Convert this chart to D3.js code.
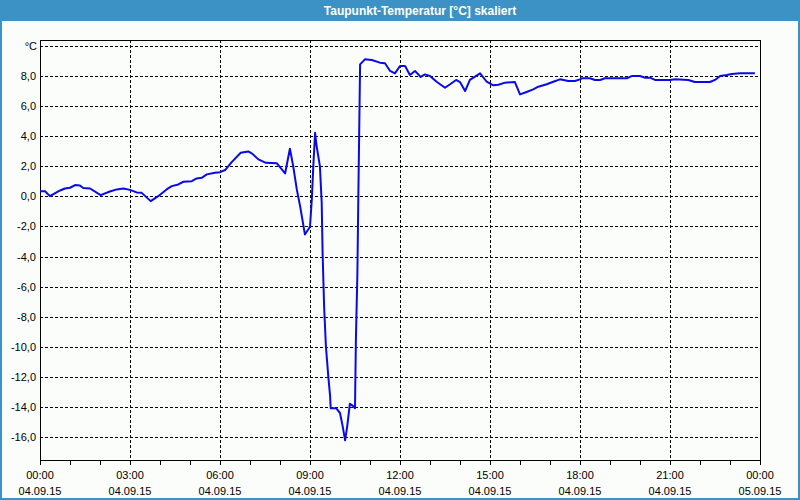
<!DOCTYPE html>
<html>
<head>
<meta charset="utf-8">
<script src="https://cdn.jsdelivr.net/npm/d3@7"></script>
<style>
  html, body { margin: 0; padding: 0; background: #ffffff; }
  svg { display: block; }
</style>
</head>
<body>
<svg id="chart" width="800" height="500"></svg>
<script>
// ---- data ----
const title = "Taupunkt-Temperatur [°C] skaliert";
const unitLabel = "°C";
// hours since 04.09.15 00:00
const hours = [
  0, 0.17, 0.33, 0.67, 0.83, 1.0, 1.17, 1.33, 1.44, 1.67,
  2.02, 2.33, 2.56, 2.78, 3.0, 3.22, 3.39, 3.69, 3.94, 4.22,
  4.39, 4.61, 4.78, 5.06, 5.22, 5.39, 5.56, 5.83, 6.0, 6.17,
  6.39, 6.69, 6.94, 7.06, 7.28, 7.53, 7.89, 8.17, 8.33, 8.44,
  8.56, 8.67, 8.83, 9.0, 9.06, 9.11, 9.17, 9.22, 9.33, 9.39,
  9.42, 9.47, 9.53, 9.61, 9.67, 9.69, 9.87, 10.0, 10.09, 10.17,
  10.24, 10.33, 10.42, 10.5, 10.53, 10.58, 10.61, 10.67, 10.83, 11.06,
  11.33, 11.5, 11.67, 11.83, 12.0, 12.17, 12.33, 12.5, 12.69, 12.83,
  13.0, 13.22, 13.5, 13.67, 13.87, 14.0, 14.17, 14.33, 14.5, 14.67,
  14.89, 15.11, 15.28, 15.5, 15.83, 16.0, 16.22, 16.44, 16.61, 16.89,
  17.11, 17.33, 17.61, 17.83, 18.0, 18.06, 18.33, 18.5, 18.67, 18.83,
  19.56, 19.72, 20.0, 20.17, 20.33, 20.5, 21.0, 21.17, 21.61, 21.83,
  22.33, 22.5, 22.67, 22.89, 23.06, 23.33, 23.83
];
const dewPoint = [
  0.35, 0.35, 0.02, 0.40, 0.53, 0.58, 0.76, 0.73, 0.56, 0.53,
  0.09, 0.33, 0.47, 0.53, 0.44, 0.27, 0.24, -0.31, 0.02, 0.47,
  0.69, 0.80, 0.98, 1.02, 1.20, 1.24, 1.47, 1.58, 1.62, 1.76,
  2.29, 2.91, 3.00, 2.87, 2.47, 2.24, 2.22, 1.53, 3.18, 2.02,
  0.47, -0.64, -2.53, -2.02, -0.20, 2.02, 4.24, 3.36, 2.02, -0.42,
  -3.76, -7.31, -9.98, -11.98, -13.30, -14.10, -14.10, -14.42, -15.31, -16.24,
  -15.31, -13.80, -13.93, -14.10, -9.53, -5.09, -0.20, 8.80, 9.13, 9.09,
  8.91, 8.87, 8.36, 8.20, 8.69, 8.69, 8.09, 8.36, 7.96, 8.13,
  8.02, 7.64, 7.24, 7.47, 7.76, 7.62, 7.02, 7.76, 7.98, 8.20,
  7.64, 7.40, 7.44, 7.58, 7.62, 6.80, 6.96, 7.13, 7.31, 7.47,
  7.64, 7.80, 7.69, 7.69, 7.80, 7.87, 7.87, 7.76, 7.76, 7.87,
  7.87, 8.02, 8.02, 7.91, 7.91, 7.76, 7.76, 7.80, 7.76, 7.62,
  7.62, 7.76, 8.02, 8.09, 8.16, 8.20, 8.20
];
const yTicks = [-16, -14, -12, -10, -8, -6, -4, -2, 0, 2, 4, 6, 8];
const yTop = 10;
const xMajorHours = [0, 3, 6, 9, 12, 15, 18, 21, 24];
const xTimeLabels = ["00:00", "03:00", "06:00", "09:00", "12:00", "15:00", "18:00", "21:00", "00:00"];
const xDateLabels = ["04.09.15", "04.09.15", "04.09.15", "04.09.15", "04.09.15", "04.09.15", "04.09.15", "04.09.15", "05.09.15"];

// ---- layout ----
const W = 800, H = 500;
const plot = { left: 40, right: 760, top: 40, bottom: 460 };
const frameBlue = "#3d92c5";
const font = "'Liberation Sans', Arial, sans-serif";

const svg = d3.select("#chart");

// background & outer frame
svg.append("rect").attr("x", 0).attr("y", 0).attr("width", W).attr("height", H).attr("fill", "#fafdfa");
svg.append("rect").attr("x", 0).attr("y", 0).attr("width", W).attr("height", 21).attr("fill", frameBlue);
svg.append("rect").attr("x", 1).attr("y", 1).attr("width", W - 2).attr("height", H - 2)
  .attr("fill", "none").attr("stroke", frameBlue).attr("stroke-width", 2);

svg.append("text")
  .attr("x", 420).attr("y", 15)
  .attr("text-anchor", "middle")
  .attr("font-family", font).attr("font-weight", "bold").attr("font-size", 12)
  .attr("fill", "#ffffff")
  .text(title);

// scales
const x = d3.scaleLinear().domain([0, 24]).range([plot.left, plot.right]);
const y = d3.scaleLinear().domain([-17.55, 10.42]).range([plot.bottom, plot.top]);

// gridlines
const g = svg.append("g");
g.selectAll("line.hgrid").data(yTicks.concat([yTop])).enter().append("line")
  .attr("class", "hgrid")
  .attr("x1", plot.left).attr("x2", plot.right)
  .attr("y1", d => Math.round(y(d)) + 0.5).attr("y2", d => Math.round(y(d)) + 0.5)
  .attr("stroke", "#000").attr("stroke-width", 1).attr("stroke-dasharray", "3,2");
g.selectAll("line.vgrid").data(xMajorHours.slice(1, -1)).enter().append("line")
  .attr("class", "vgrid")
  .attr("x1", d => Math.round(x(d)) + 0.5).attr("x2", d => Math.round(x(d)) + 0.5)
  .attr("y1", plot.top).attr("y2", plot.bottom)
  .attr("stroke", "#000").attr("stroke-width", 1).attr("stroke-dasharray", "3,2");

// y labels
g.selectAll("text.ylab").data(yTicks).enter().append("text")
  .attr("class", "ylab")
  .attr("x", 36).attr("y", d => y(d) + 4)
  .attr("text-anchor", "end")
  .attr("font-family", font).attr("font-size", 11).attr("fill", "#000")
  .text(d => d3.format(".1f")(d).replace(".", ",").replace("−", "-"));
g.append("text")
  .attr("x", 37).attr("y", y(yTop) + 4)
  .attr("text-anchor", "end")
  .attr("font-family", font).attr("font-size", 11).attr("fill", "#000")
  .text(unitLabel);

// x axis ticks (hourly) and labels
const xAxis = d3.axisBottom(x).tickValues(d3.range(0, 25)).tickSize(5).tickFormat("");
const ax = svg.append("g").attr("transform", `translate(0,${plot.bottom})`).call(xAxis);
ax.select(".domain").remove();
ax.selectAll(".tick line").attr("stroke", "#000");

g.selectAll("text.xtime").data(xMajorHours).enter().append("text")
  .attr("x", d => x(d)).attr("y", 479)
  .attr("text-anchor", "middle")
  .attr("font-family", font).attr("font-size", 11).attr("fill", "#000")
  .text((d, i) => xTimeLabels[i]);
g.selectAll("text.xdate").data(xMajorHours).enter().append("text")
  .attr("x", d => x(d)).attr("y", 495)
  .attr("text-anchor", "middle")
  .attr("font-family", font).attr("font-size", 11).attr("fill", "#000")
  .text((d, i) => xDateLabels[i]);

// plot frame
svg.append("rect")
  .attr("x", plot.left + 0.5).attr("y", plot.top + 0.5)
  .attr("width", plot.right - plot.left).attr("height", plot.bottom - plot.top)
  .attr("fill", "none").attr("stroke", "#000").attr("stroke-width", 1);

// series line
const data = hours.map((h, i) => ({ h, v: dewPoint[i] }));
const line = d3.line().x(d => x(d.h)).y(d => y(d.v));
svg.append("path")
  .datum(data)
  .attr("d", line)
  .attr("fill", "none")
  .attr("stroke", "#0a0ae6")
  .attr("stroke-width", 2)
  .attr("stroke-linejoin", "round");
</script>
</body>
</html>
